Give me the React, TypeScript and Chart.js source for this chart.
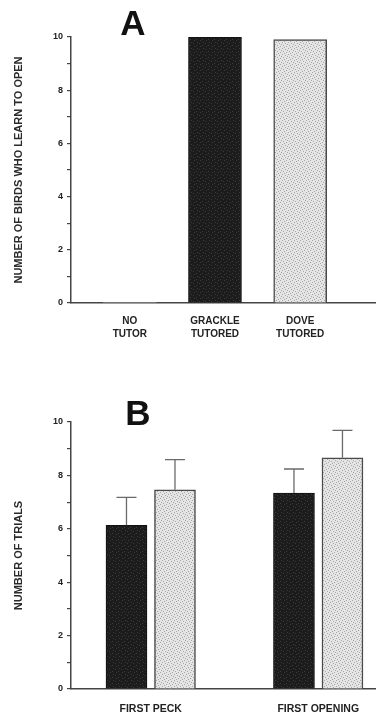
import React, { useEffect, useRef } from 'react';
import { Chart, registerables } from 'chart.js';
Chart.register(...registerables);

// ---- Data ----
const tutorGroups: string[][] = [['NO', 'TUTOR'], ['GRACKLE', 'TUTORED'], ['DOVE', 'TUTORED']];
const birdsLearned = [0, 10, 9.9];

const trialGroups = ['FIRST PECK', 'FIRST OPENING'];
const grackleTrials = [6.13, 7.34];
const grackleSE = [1.05, 0.9];
const doveTrials = [7.46, 8.66];
const doveSE = [1.13, 1.03];

const yTitleA = 'NUMBER OF BIRDS WHO LEARN TO OPEN';
const yTitleB = 'NUMBER OF TRIALS';

const FONT = 'Arial, "Liberation Sans", Helvetica, sans-serif';

function makePattern(base: string, dot: string, dots: number[][]) {
  const c = document.createElement('canvas');
  c.width = 6; c.height = 6;
  const g = c.getContext('2d')!;
  g.fillStyle = base; g.fillRect(0, 0, 6, 6);
  g.fillStyle = dot;
  dots.forEach(([x, y]) => g.fillRect(x, y, 1, 1));
  return g.createPattern(c, 'repeat')!;
}

const lightDots = [[0, 0], [3, 1], [1, 3], [4, 4], [2, 5], [5, 2]];
const darkDots = [[1, 1], [4, 3], [2, 4], [5, 0]];

const errorBars = {
  id: 'errorBars',
  afterDatasetsDraw(chart: any) {
    const ctx = chart.ctx;
    const ys = chart.scales.y;
    chart.data.datasets.forEach((ds: any, i: number) => {
      if (!ds.errors) return;
      const meta = chart.getDatasetMeta(i);
      meta.data.forEach((bar: any, j: number) => {
        const v = ds.data[j].y;
        const top = ys.getPixelForValue(v + ds.errors[j]);
        ctx.save();
        ctx.strokeStyle = '#6a6a6a';
        ctx.lineWidth = 1.3;
        ctx.beginPath();
        ctx.moveTo(bar.x, bar.y);
        ctx.lineTo(bar.x, top);
        ctx.moveTo(bar.x - 10, top);
        ctx.lineTo(bar.x + 10, top);
        ctx.stroke();
        ctx.restore();
      });
    });
  },
};

function letterPlugin(text: string, x: number, y: number) {
  return {
    id: 'letter' + text,
    afterDraw(chart: any) {
      const ctx = chart.ctx;
      ctx.save();
      ctx.font = `bold 35px ${FONT}`;
      ctx.fillStyle = '#111';
      ctx.textAlign = 'center';
      ctx.textBaseline = 'alphabetic';
      ctx.fillText(text, x, y);
      ctx.restore();
    },
  };
}

function yScale(title: string) {
  return {
    min: 0,
    max: 10,
    ticks: {
      stepSize: 1,
      callback: (v: any) => (v % 2 === 0 ? String(v) : ''),
      font: { family: FONT, size: 9, weight: 'bold' },
      color: '#222',
      padding: 4,
    },
    grid: { drawOnChartArea: false, drawTicks: true, tickLength: 4, color: '#444', lineWidth: 1.2 },
    border: { display: true, color: '#444', width: 1.5 },
    afterFit: (s: any) => { s.width = 71; },
    title: {
      display: true,
      text: title,
      font: { family: FONT, size: 11, weight: 'bold' },
      color: '#2a2a2a',
      padding: { top: 12, bottom: 0 },
    },
  };
}

export default function App() {
  const refA = useRef<HTMLCanvasElement>(null);
  const refB = useRef<HTMLCanvasElement>(null);

  useEffect(() => {
    const light = makePattern('#e4e4e4', '#a8a8a8', lightDots);
    const dark = makePattern('#1c1c1c', '#3a3a3a', darkDots);

    const chartA = new Chart(refA.current!, {
      type: 'bar',
      data: {
        datasets: [{
          data: birdsLearned.map((v, i) => ({ x: i + 1, y: v })),
          backgroundColor: ['#ffffff', dark, light],
          borderColor: ['#ffffff', '#111', '#4a4a4a'],
          borderWidth: [0, 1, 1.5],
          barThickness: 53,
        }] as any,
      },
      options: {
        animation: false,
        responsive: false,
        maintainAspectRatio: false,
        layout: { padding: { top: 37, right: 0, bottom: 0, left: 0 } },
        plugins: { legend: { display: false }, tooltip: { enabled: false } },
        scales: {
          x: {
            type: 'linear',
            offset: false,
            min: 0.31,
            max: 3.89,
            afterBuildTicks: (s: any) => { s.ticks = tutorGroups.map((_, i) => ({ value: i + 1 })); },
            ticks: {
              callback: (v: any) => tutorGroups[v - 1] || '',
              font: { family: FONT, size: 10, weight: 'bold', lineHeight: 1.3 },
              color: '#222',
              padding: 12,
              maxRotation: 0,
              autoSkip: false,
            },
            grid: { display: false, drawTicks: false },
            border: { display: true, color: '#444', width: 1.5 },
            afterFit: (s: any) => { s.height = 47; },
          },
          y: yScale(yTitleA) as any,
        },
      } as any,
      plugins: [letterPlugin('A', 133, 35)],
    });

    const chartB = new Chart(refB.current!, {
      type: 'bar',
      data: {
        datasets: [
          {
            data: grackleTrials.map((v, i) => ({ x: i + 1, y: v })),
            errors: grackleSE,
            backgroundColor: dark,
            borderColor: '#111',
            borderWidth: 1,
            barThickness: 48.5,
            maxBarThickness: 41,
          },
          {
            data: doveTrials.map((v, i) => ({ x: i + 1, y: v })),
            errors: doveSE,
            backgroundColor: light,
            borderColor: '#4a4a4a',
            borderWidth: 1.5,
            barThickness: 48.5,
            maxBarThickness: 41,
          },
        ] as any,
      },
      options: {
        animation: false,
        responsive: false,
        maintainAspectRatio: false,
        layout: { padding: { top: 72, right: 0, bottom: 0, left: 0 } },
        plugins: { legend: { display: false }, tooltip: { enabled: false } },
        scales: {
          x: {
            type: 'linear',
            offset: false,
            min: 0.524,
            max: 2.345,
            afterBuildTicks: (s: any) => { s.ticks = trialGroups.map((_, i) => ({ value: i + 1 })); },
            ticks: {
              callback: (v: any) => trialGroups[v - 1] || '',
              font: { family: FONT, size: 10.5, weight: 'bold' },
              color: '#222',
              padding: 14,
              maxRotation: 0,
              autoSkip: false,
            },
            grid: { display: false, drawTicks: false },
            border: { display: true, color: '#444', width: 1.5 },
            afterFit: (s: any) => { s.height = 29; },
          },
          y: yScale(yTitleB) as any,
        },
      } as any,
      plugins: [errorBars, letterPlugin('B', 138, 75)],
    });

    return () => { chartA.destroy(); chartB.destroy(); };
  }, []);

  return (
    <div style={{ position: 'absolute', left: 0, top: 0, width: 376, height: 718, background: '#fff' }}>
      <canvas ref={refA} width={376} height={350} style={{ position: 'absolute', left: 0, top: 0, width: 376, height: 350 }} />
      <canvas ref={refB} width={376} height={368} style={{ position: 'absolute', left: 0, top: 350, width: 376, height: 368 }} />
    </div>
  );
}
